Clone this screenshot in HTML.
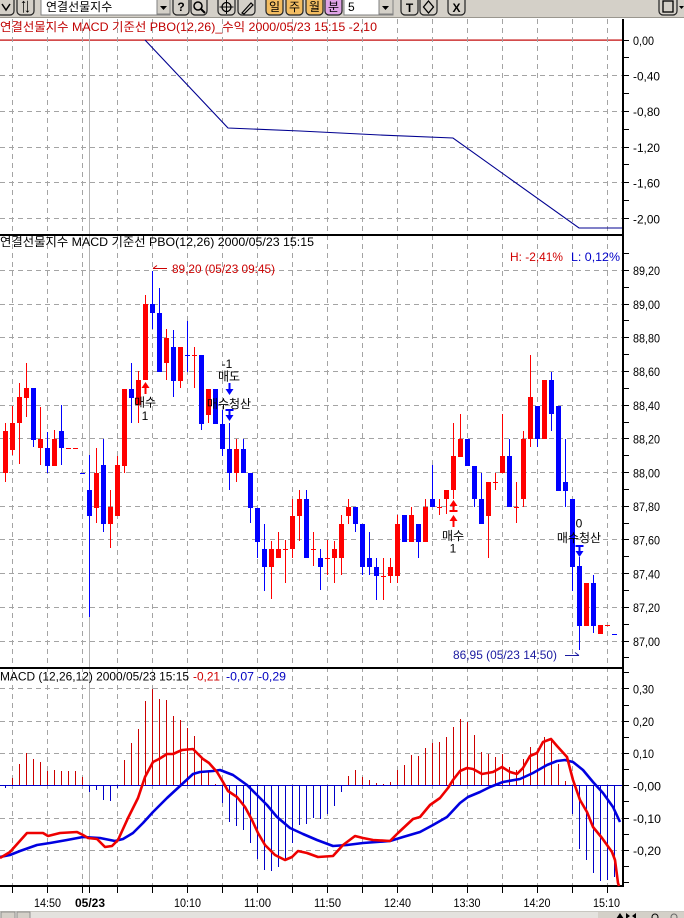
<!DOCTYPE html>
<html><head><meta charset="utf-8">
<style>
body{margin:0;background:#fff}
svg{display:block}
text{font-family:"Liberation Sans","NanumGothic","Noto Sans CJK KR",sans-serif;font-size:12px}
.k{font-family:"Liberation Sans","Noto Sans CJK KR","NanumGothic",sans-serif}
</style></head>
<body>
<svg width="684" height="918" viewBox="0 0 684 918" xmlns="http://www.w3.org/2000/svg">
<rect x="0" y="0" width="684" height="918" fill="#fff"/>

<!-- toolbar -->
<rect x="0" y="0" width="684" height="18" fill="#d4d0c8"/>
<rect x="0" y="17" width="684" height="1" fill="#9a978f"/>
<g fill="#d4d0c8" stroke="#222" stroke-width="1.2">
<rect x="-3" y="-4" width="17" height="19" rx="4"/>
<rect x="17" y="-4" width="17" height="19" rx="4"/>
<rect x="173" y="-4" width="16" height="19" rx="4"/>
<rect x="191" y="-4" width="16" height="19" rx="4"/>
<rect x="218" y="-4" width="17" height="19" rx="4"/>
<rect x="238" y="-4" width="17" height="19" rx="4"/>
<rect x="266" y="-4" width="17" height="19" rx="4" fill="#f3bd62"/>
<rect x="286" y="-4" width="17" height="19" rx="4" fill="#f3bd62"/>
<rect x="306" y="-4" width="17" height="19" rx="4" fill="#f3bd62"/>
<rect x="325" y="-4" width="17" height="19" rx="4" fill="#dfa3e6"/>
<rect x="401" y="-4" width="17" height="19" rx="4"/>
<rect x="420" y="-4" width="17" height="19" rx="4"/>
<rect x="448" y="-4" width="17" height="19" rx="4"/>
<rect x="659" y="-4" width="18" height="19" rx="4"/>
</g>
<rect x="41" y="-2" width="129" height="17" fill="#fff" stroke="#808080"/>
<rect x="157" y="-1" width="13" height="15" fill="#d4d0c8" stroke="#808080"/>
<path d="M160 6h7l-3.5 4z" fill="#000"/>
<text x="46" y="11" class="k" font-size="12">연결선물지수</text>
<rect x="344" y="-2" width="49" height="17" fill="#fff" stroke="#808080"/>
<rect x="379" y="-1" width="14" height="15" fill="#d4d0c8" stroke="#808080"/>
<path d="M382 6h7l-3.5 4z" fill="#000"/>
<text x="348" y="11">5</text>
<g fill="#000" font-size="11" text-anchor="middle">
<text x="25.5" y="11" font-weight="bold">⇅</text>
<text x="181" y="11" font-weight="bold">?</text>
<text x="274.5" y="11" class="k" font-size="11">일</text>
<text x="294.5" y="11" class="k" font-size="11">주</text>
<text x="314.5" y="11" class="k" font-size="11">월</text>
<text x="333.5" y="11" class="k" font-size="11">분</text>
<text x="409.5" y="12" font-weight="bold" font-size="13">T</text>
<text x="456.5" y="12" font-weight="bold" font-size="12">X</text>
</g>
<path d="M2 4l4 6l4-6" fill="none" stroke="#000" stroke-width="1.5"/>
<circle cx="198" cy="6" r="4" fill="none" stroke="#000" stroke-width="1.5"/>
<path d="M201 9l4 4" stroke="#000" stroke-width="2"/>
<circle cx="226.5" cy="7" r="4.5" fill="none" stroke="#000" stroke-width="1.3"/>
<path d="M226.5 0v14M219.5 7h14" stroke="#000"/>
<path d="M242 13l9-10l2 2l-9 9z" fill="none" stroke="#000" stroke-width="1.2"/>
<path d="M428.5 1l5 6l-5 6l-5-6z" fill="none" stroke="#000" stroke-width="1.3"/>
<rect x="663" y="1" width="10" height="11" fill="none" stroke="#000" stroke-width="1.3"/>
<path d="M679 6h5l-2.5 3z" fill="#000"/>

<!-- top panel red base line -->
<rect x="0" y="39.5" width="622" height="1.2" fill="#c00000"/>

<!-- grid -->
<g stroke="#a4a4a4" stroke-width="1" stroke-dasharray="5 4" fill="none">
<path d="M12.5 19V885M47.5 19V885M82.5 19V885M117.5 19V885M152.5 19V885M187.5 19V885M222.5 19V885M257.5 19V885M292.5 19V885M327.5 19V885M362.5 19V885M397.5 19V885M432.5 19V885M467.5 19V885M502.5 19V885M537.5 19V885M572.5 19V885M607.5 19V885"/>
<path d="M0 75.5H622M0 111.5H622M0 147.5H622M0 182.5H622M0 218.5H622"/>
<path d="M0 270.5H622M0 304.5H622M0 337.5H622M0 371.5H622M0 405.5H622M0 438.5H622M0 472.5H622M0 506.5H622M0 539.5H622M0 573.5H622M0 607.5H622M0 641.5H622"/>
<path d="M0 688.5H622M0 721.5H622M0 753.5H622M0 818.5H622M0 850.5H622"/>
</g>
<rect x="89" y="19" width="1" height="866" fill="#b4b4b4"/>

<!-- top panel PBO line -->
<polyline points="145,40 228,128 300,131 380,135 453,138 579,228 622,228" fill="none" stroke="#000090" stroke-width="1.1"/>

<!-- panel borders / axis -->
<rect x="0" y="234" width="624" height="2" fill="#000"/>
<rect x="0" y="667" width="624" height="2" fill="#000"/>
<rect x="0" y="885" width="624" height="2" fill="#000"/>
<rect x="622" y="19" width="2" height="868" fill="#000"/>

<!-- axis ticks -->
<path stroke="#000" stroke-width="1" d="
M624 40.5h5M624 57.5h5M624 75.5h5M624 93.5h5M624 111.5h5M624 129.5h5M624 147.5h5M624 164.5h5M624 182.5h5M624 200.5h5M624 218.5h5
M624 253.5h5M624 270.5h5M624 287.5h5M624 304.5h5M624 320.5h5M624 337.5h5M624 354.5h5M624 371.5h5M624 388.5h5M624 405.5h5M624 422.5h5M624 438.5h5M624 455.5h5M624 472.5h5M624 489.5h5M624 506.5h5M624 523.5h5M624 539.5h5M624 556.5h5M624 573.5h5M624 590.5h5M624 607.5h5M624 624.5h5M624 641.5h5M624 657.5h5
M624 672.5h5M624 688.5h5M624 705.5h5M624 721.5h5M624 737.5h5M624 753.5h5M624 769.5h5M624 785.5h5M624 801.5h5M624 818.5h5M624 834.5h5M624 850.5h5M624 866.5h5M624 882.5h5
M12.5 887v6M47.5 887v6M82.5 887v6M89.5 887v6M117.5 887v6M152.5 887v6M187.5 887v6M222.5 887v6M257.5 887v6M292.5 887v6M327.5 887v6M362.5 887v6M397.5 887v6M432.5 887v6M467.5 887v6M502.5 887v6M537.5 887v6M572.5 887v6M607.5 887v6"/>

<!-- axis labels -->
<g fill="#000" font-size="13.5" lengthAdjust="spacingAndGlyphs">
<text x="633" y="45" textLength="21" lengthAdjust="spacingAndGlyphs">0,00</text>
<text x="633" y="80.5" textLength="27" lengthAdjust="spacingAndGlyphs">-0,40</text>
<text x="633" y="116" textLength="27" lengthAdjust="spacingAndGlyphs">-0,80</text>
<text x="633" y="152" textLength="27" lengthAdjust="spacingAndGlyphs">-1,20</text>
<text x="633" y="187.5" textLength="27" lengthAdjust="spacingAndGlyphs">-1,60</text>
<text x="633" y="223.5" textLength="27" lengthAdjust="spacingAndGlyphs">-2,00</text>
<text x="633" y="275" textLength="27" lengthAdjust="spacingAndGlyphs">89,20</text>
<text x="633" y="309" textLength="27" lengthAdjust="spacingAndGlyphs">89,00</text>
<text x="633" y="342.5" textLength="27" lengthAdjust="spacingAndGlyphs">88,80</text>
<text x="633" y="376" textLength="27" lengthAdjust="spacingAndGlyphs">88,60</text>
<text x="633" y="410" textLength="27" lengthAdjust="spacingAndGlyphs">88,40</text>
<text x="633" y="443.5" textLength="27" lengthAdjust="spacingAndGlyphs">88,20</text>
<text x="633" y="477.5" textLength="27" lengthAdjust="spacingAndGlyphs">88,00</text>
<text x="633" y="511" textLength="27" lengthAdjust="spacingAndGlyphs">87,80</text>
<text x="633" y="544.5" textLength="27" lengthAdjust="spacingAndGlyphs">87,60</text>
<text x="633" y="578.5" textLength="27" lengthAdjust="spacingAndGlyphs">87,40</text>
<text x="633" y="612" textLength="27" lengthAdjust="spacingAndGlyphs">87,20</text>
<text x="633" y="646" textLength="27" lengthAdjust="spacingAndGlyphs">87,00</text>
<text x="633" y="693.5" textLength="21" lengthAdjust="spacingAndGlyphs">0,30</text>
<text x="633" y="726" textLength="21" lengthAdjust="spacingAndGlyphs">0,20</text>
<text x="633" y="758" textLength="21" lengthAdjust="spacingAndGlyphs">0,10</text>
<text x="633" y="790.5" textLength="28" lengthAdjust="spacingAndGlyphs">-0,00</text>
<text x="633" y="823" textLength="28" lengthAdjust="spacingAndGlyphs">-0,10</text>
<text x="633" y="855" textLength="28" lengthAdjust="spacingAndGlyphs">-0,20</text>
</g>

<!-- headers -->
<text x="0" y="31" class="k" fill="#c00000" textLength="377" lengthAdjust="spacingAndGlyphs">연결선물지수 MACD 기준선 PBO(12,26)_수익 2000/05/23 15:15 -2,10</text>
<text x="0" y="246" class="k" fill="#000" textLength="314" lengthAdjust="spacingAndGlyphs">연결선물지수 MACD 기준선 PBO(12,26) 2000/05/23 15:15</text>
<text x="510" y="261" fill="#d00000" textLength="53" lengthAdjust="spacingAndGlyphs">H: -2,41%</text>
<text x="571" y="261" fill="#0000c8" textLength="49" lengthAdjust="spacingAndGlyphs">L: 0,12%</text>
<text x="0" y="680.5" fill="#000" textLength="189" lengthAdjust="spacingAndGlyphs">MACD (12,26,12) 2000/05/23 15:15</text>
<text x="193" y="680.5" fill="#d00000" textLength="27" lengthAdjust="spacingAndGlyphs">-0,21</text>
<text x="226" y="680.5" fill="#0000c0" textLength="28" lengthAdjust="spacingAndGlyphs">-0,07</text>
<text x="258" y="680.5" fill="#0000c0" textLength="28" lengthAdjust="spacingAndGlyphs">-0,29</text>

<!-- red candles -->
<g fill="#ff0000">
<rect x="5" y="423" width="1" height="59"/><rect x="3" y="431" width="5" height="42"/>
<rect x="12" y="406" width="1" height="49"/><rect x="10" y="423" width="5" height="27"/>
<rect x="19" y="383" width="1" height="81"/><rect x="17" y="397" width="5" height="26"/>
<rect x="26" y="363" width="1" height="54"/><rect x="24" y="388" width="5" height="10"/>
<rect x="40" y="407" width="1" height="58"/><rect x="38" y="439" width="5" height="9"/>
<rect x="54" y="430" width="1" height="36"/><rect x="52" y="439" width="5" height="27"/>
<rect x="66" y="448" width="5" height="1"/>
<rect x="73" y="448" width="5" height="1"/>
<rect x="96" y="448" width="1" height="75"/><rect x="94" y="473" width="5" height="35"/>
<rect x="110" y="490" width="1" height="58"/><rect x="108" y="507" width="5" height="17"/>
<rect x="117" y="456" width="1" height="60"/><rect x="115" y="465" width="5" height="51"/>
<rect x="124" y="389" width="1" height="84"/><rect x="122" y="389" width="5" height="77"/>
<rect x="138" y="371" width="1" height="52"/><rect x="136" y="380" width="5" height="25"/>
<rect x="145" y="295" width="1" height="85"/><rect x="143" y="304" width="5" height="76"/>
<rect x="166" y="329" width="1" height="51"/><rect x="164" y="338" width="5" height="25"/>
<rect x="180" y="347" width="1" height="41"/><rect x="178" y="347" width="5" height="34"/>
<rect x="194" y="347" width="1" height="41"/><rect x="192" y="355" width="5" height="1"/>
<rect x="208" y="389" width="1" height="34"/><rect x="206" y="389" width="5" height="26"/>
<rect x="236" y="439" width="1" height="43"/><rect x="234" y="449" width="5" height="24"/>
<rect x="271" y="541" width="1" height="58"/><rect x="269" y="549" width="5" height="18"/>
<rect x="278" y="532" width="1" height="26"/><rect x="276" y="549" width="5" height="9"/>
<rect x="285" y="540" width="1" height="43"/><rect x="283" y="549" width="5" height="1"/>
<rect x="292" y="499" width="1" height="59"/><rect x="290" y="516" width="5" height="33"/>
<rect x="299" y="490" width="1" height="51"/><rect x="297" y="499" width="5" height="17"/>
<rect x="313" y="532" width="1" height="34"/><rect x="311" y="549" width="5" height="1"/>
<rect x="327" y="540" width="1" height="35"/><rect x="325" y="558" width="5" height="1"/>
<rect x="334" y="541" width="1" height="42"/><rect x="332" y="549" width="5" height="9"/>
<rect x="341" y="515" width="1" height="60"/><rect x="339" y="524" width="5" height="34"/>
<rect x="348" y="499" width="1" height="25"/><rect x="346" y="507" width="5" height="9"/>
<rect x="383" y="558" width="1" height="42"/><rect x="381" y="576" width="5" height="1"/>
<rect x="390" y="558" width="1" height="25"/><rect x="388" y="567" width="5" height="9"/>
<rect x="397" y="515" width="1" height="68"/><rect x="395" y="524" width="5" height="52"/>
<rect x="411" y="507" width="1" height="35"/><rect x="409" y="515" width="5" height="27"/>
<rect x="425" y="499" width="1" height="43"/><rect x="423" y="507" width="5" height="35"/>
<rect x="439" y="499" width="1" height="16"/><rect x="437" y="507" width="5" height="1"/>
<rect x="446" y="490" width="1" height="24"/><rect x="444" y="490" width="5" height="9"/>
<rect x="453" y="423" width="1" height="76"/><rect x="451" y="456" width="5" height="34"/>
<rect x="460" y="414" width="1" height="43"/><rect x="458" y="439" width="5" height="18"/>
<rect x="488" y="482" width="1" height="76"/><rect x="486" y="482" width="5" height="34"/>
<rect x="495" y="473" width="1" height="17"/><rect x="493" y="482" width="5" height="1"/>
<rect x="502" y="414" width="1" height="59"/><rect x="500" y="456" width="5" height="17"/>
<rect x="516" y="482" width="1" height="41"/><rect x="514" y="507" width="5" height="1"/>
<rect x="523" y="431" width="1" height="76"/><rect x="521" y="439" width="5" height="60"/>
<rect x="530" y="355" width="1" height="92"/><rect x="528" y="397" width="5" height="42"/>
<rect x="542" y="380" width="5" height="59"/>
<rect x="584" y="583" width="5" height="43"/>
<rect x="598" y="625" width="5" height="9"/>
<rect x="605" y="625" width="5" height="1"/>
</g>

<!-- blue candles -->
<g fill="#0000ff">
<rect x="33" y="388" width="1" height="59"/><rect x="31" y="388" width="5" height="52"/>
<rect x="47" y="432" width="1" height="41"/><rect x="45" y="448" width="5" height="18"/>
<rect x="61" y="405" width="1" height="60"/><rect x="59" y="431" width="5" height="17"/>
<rect x="80" y="473" width="5" height="1"/>
<rect x="89" y="455" width="1" height="162"/><rect x="87" y="490" width="5" height="26"/>
<rect x="103" y="439" width="1" height="93"/><rect x="101" y="465" width="5" height="59"/>
<rect x="131" y="363" width="1" height="60"/><rect x="129" y="389" width="5" height="9"/>
<rect x="152" y="271" width="1" height="58"/><rect x="150" y="304" width="5" height="9"/>
<rect x="159" y="288" width="1" height="84"/><rect x="157" y="313" width="5" height="59"/>
<rect x="173" y="330" width="1" height="67"/><rect x="171" y="347" width="5" height="34"/>
<rect x="187" y="321" width="1" height="51"/><rect x="185" y="355" width="5" height="1"/>
<rect x="201" y="355" width="1" height="75"/><rect x="199" y="355" width="5" height="69"/>
<rect x="213" y="389" width="5" height="35"/>
<rect x="222" y="410" width="1" height="46"/><rect x="220" y="424" width="5" height="25"/>
<rect x="229" y="423" width="1" height="67"/><rect x="227" y="449" width="5" height="24"/>
<rect x="243" y="439" width="1" height="34"/><rect x="241" y="449" width="5" height="24"/>
<rect x="250" y="473" width="1" height="50"/><rect x="248" y="473" width="5" height="35"/>
<rect x="257" y="508" width="1" height="50"/><rect x="255" y="508" width="5" height="34"/>
<rect x="264" y="524" width="1" height="67"/><rect x="262" y="549" width="5" height="18"/>
<rect x="306" y="490" width="1" height="68"/><rect x="304" y="499" width="5" height="59"/>
<rect x="320" y="549" width="1" height="41"/><rect x="318" y="558" width="5" height="9"/>
<rect x="355" y="507" width="1" height="25"/><rect x="353" y="507" width="5" height="17"/>
<rect x="362" y="524" width="1" height="51"/><rect x="360" y="524" width="5" height="43"/>
<rect x="369" y="532" width="1" height="43"/><rect x="367" y="558" width="5" height="9"/>
<rect x="376" y="558" width="1" height="42"/><rect x="374" y="567" width="5" height="9"/>
<rect x="402" y="515" width="5" height="27"/>
<rect x="418" y="524" width="1" height="34"/><rect x="416" y="524" width="5" height="18"/>
<rect x="432" y="465" width="1" height="42"/><rect x="430" y="499" width="5" height="8"/>
<rect x="465" y="439" width="5" height="27"/>
<rect x="474" y="466" width="1" height="41"/><rect x="472" y="466" width="5" height="33"/>
<rect x="481" y="473" width="1" height="51"/><rect x="479" y="499" width="5" height="25"/>
<rect x="509" y="439" width="1" height="68"/><rect x="507" y="456" width="5" height="51"/>
<rect x="537" y="406" width="1" height="41"/><rect x="535" y="406" width="5" height="33"/>
<rect x="551" y="372" width="1" height="59"/><rect x="549" y="380" width="5" height="34"/>
<rect x="556" y="406" width="5" height="85"/>
<rect x="565" y="439" width="1" height="68"/><rect x="563" y="482" width="5" height="9"/>
<rect x="572" y="499" width="1" height="92"/><rect x="570" y="499" width="5" height="68"/>
<rect x="579" y="557" width="1" height="93"/><rect x="577" y="566" width="5" height="60"/>
<rect x="593" y="575" width="1" height="58"/><rect x="591" y="583" width="5" height="43"/>
<rect x="612" y="634" width="5" height="1"/>
</g>

<!-- high / low annotations -->
<path d="M153 268.5h14M153 268.5l4-3" stroke="#cc0000" fill="none"/>
<text x="172" y="273" fill="#cc0000" textLength="103" lengthAdjust="spacingAndGlyphs">89,20 (05/23 09:45)</text>
<text x="453" y="659" fill="#1a1aa0" textLength="104" lengthAdjust="spacingAndGlyphs">86,95 (05/23 14:50)</text>
<path d="M565 655.5h14M579 655.5l-4-3" stroke="#1a1aa0" fill="none"/>

<!-- signal arrows -->
<g fill="#ff0000">
<path d="M145.5 382l4 6h-3v6h-2v-6h-3z"/>
<path d="M453.5 500l4 6h-3v4h-2v-4h-3z"/><rect x="449.5" y="510" width="8" height="2"/>
<path d="M453.5 515l4 6h-3v6h-2v-6h-3z"/>
</g>
<g fill="#0000ff">
<path d="M228.5 383h2v6h3l-4 6l-4-6h3z"/>
<rect x="225.5" y="409" width="8" height="2"/><path d="M228.5 411h2v4h3l-4 6l-4-6h3z"/>
<rect x="575.5" y="545" width="8" height="2"/><path d="M578.5 547h2v4h3l-4 6l-4-6h3z"/>
</g>
<g class="k" fill="#000" text-anchor="middle">
<text x="227" y="368">-1</text>
<text x="229" y="380.5" class="k">매도</text>
<text x="229" y="408" class="k">매수청산</text>
<text x="145" y="406.5" class="k">매수</text>
<text x="145" y="420">1</text>
<text x="453" y="540" class="k">매수</text>
<text x="453" y="552.5">1</text>
<text x="579" y="527.5">0</text>
<text x="579" y="542" class="k">매수청산</text>
</g>

<!-- MACD histogram -->
<rect x="0" y="785" width="622" height="1" fill="#0000c8"/>
<g fill="#cc0000">
<rect x="12" y="778" width="1" height="7"/><rect x="19" y="764" width="1" height="21"/><rect x="26" y="753" width="1" height="32"/><rect x="33" y="759" width="1" height="26"/><rect x="40" y="762" width="1" height="23"/><rect x="47" y="771" width="1" height="14"/><rect x="54" y="770" width="1" height="15"/><rect x="61" y="771" width="1" height="14"/><rect x="68" y="771" width="1" height="14"/><rect x="75" y="771" width="1" height="14"/><rect x="82" y="777" width="1" height="8"/>
<rect x="124" y="760" width="1" height="25"/><rect x="131" y="743" width="1" height="42"/><rect x="138" y="729" width="1" height="56"/><rect x="145" y="701" width="1" height="84"/><rect x="152" y="689" width="1" height="96"/><rect x="159" y="699" width="1" height="86"/><rect x="166" y="700" width="1" height="85"/><rect x="173" y="716" width="1" height="69"/><rect x="180" y="720" width="1" height="65"/><rect x="187" y="728" width="1" height="57"/><rect x="194" y="736" width="1" height="49"/><rect x="201" y="758" width="1" height="27"/><rect x="208" y="771" width="1" height="14"/><rect x="215" y="784" width="1" height="1"/>
<rect x="348" y="776" width="1" height="9"/><rect x="355" y="770" width="1" height="15"/><rect x="362" y="777" width="1" height="8"/><rect x="369" y="780" width="1" height="5"/><rect x="376" y="783" width="1" height="2"/><rect x="383" y="784" width="1" height="1"/><rect x="390" y="782" width="1" height="3"/><rect x="397" y="770" width="1" height="15"/><rect x="404" y="765" width="1" height="20"/><rect x="411" y="755" width="1" height="30"/><rect x="418" y="756" width="1" height="29"/><rect x="425" y="748" width="1" height="37"/><rect x="432" y="743" width="1" height="42"/><rect x="439" y="742" width="1" height="43"/><rect x="446" y="737" width="1" height="48"/><rect x="453" y="727" width="1" height="58"/><rect x="460" y="719" width="1" height="66"/><rect x="467" y="722" width="1" height="63"/><rect x="474" y="735" width="1" height="50"/><rect x="481" y="752" width="1" height="33"/><rect x="488" y="754" width="1" height="31"/><rect x="495" y="757" width="1" height="28"/><rect x="502" y="754" width="1" height="31"/><rect x="509" y="767" width="1" height="18"/><rect x="516" y="770" width="1" height="15"/><rect x="523" y="759" width="1" height="26"/><rect x="530" y="747" width="1" height="38"/><rect x="537" y="752" width="1" height="33"/><rect x="544" y="737" width="1" height="48"/><rect x="551" y="740" width="1" height="45"/><rect x="558" y="764" width="1" height="21"/><rect x="565" y="781" width="1" height="4"/>
</g>
<g fill="#0000c8">
<rect x="5" y="786" width="1" height="2"/>
<rect x="89" y="786" width="1" height="6"/><rect x="96" y="786" width="1" height="4"/><rect x="103" y="786" width="1" height="14"/><rect x="110" y="786" width="1" height="15"/><rect x="117" y="786" width="1" height="2"/>
<rect x="222" y="786" width="1" height="17"/><rect x="229" y="786" width="1" height="36"/><rect x="236" y="786" width="1" height="40"/><rect x="243" y="786" width="1" height="44"/><rect x="250" y="786" width="1" height="57"/><rect x="257" y="786" width="1" height="73"/><rect x="264" y="786" width="1" height="84"/><rect x="271" y="786" width="1" height="85"/><rect x="278" y="786" width="1" height="81"/><rect x="285" y="786" width="1" height="73"/><rect x="292" y="786" width="1" height="57"/><rect x="299" y="786" width="1" height="39"/><rect x="306" y="786" width="1" height="38"/><rect x="313" y="786" width="1" height="32"/><rect x="320" y="786" width="1" height="33"/><rect x="327" y="786" width="1" height="28"/><rect x="334" y="786" width="1" height="20"/><rect x="341" y="786" width="1" height="6"/>
<rect x="572" y="786" width="1" height="28"/><rect x="579" y="786" width="1" height="63"/><rect x="586" y="786" width="1" height="74"/><rect x="593" y="786" width="1" height="87"/><rect x="600" y="786" width="1" height="95"/><rect x="607" y="786" width="1" height="94"/><rect x="614" y="786" width="1" height="91"/>
</g>

<!-- MACD lines -->
<polyline fill="none" stroke="#0000e0" stroke-width="2.6" stroke-linejoin="round" points="0,857 10,855 20,851 37,845 50,843 67,840 83,837 100,838 115,841 123,839 133,833 143,823 153,812 167,798 180,786 193,774 200,772 213,771 220,770 233,775 247,785 257,795 267,805 277,817 290,828 303,834 317,840 333,846 347,845 363,843 390,841 403,837 420,832 433,825 447,817 460,803 468,797 480,792 490,787 503,782 520,779 533,773 547,765 557,761 565,760 573,762 583,770 593,782 603,793 613,807 620,822"/>
<polyline fill="none" stroke="#ee0000" stroke-width="2.6" stroke-linejoin="round" points="0,858 10,852 27,833 43,833 48,836 60,833 77,832 83,835 88,838 97,839 105,847 112,846 118,840 128,818 138,798 145,777 153,762 159,759 167,754 173,754 182,750 193,749 203,759 209,763 217,772 223,782 228,791 237,797 245,807 252,820 258,833 265,845 275,855 285,860 292,857 298,851 307,853 318,857 333,856 343,845 355,836 363,838 373,840 390,841 398,833 413,819 420,817 430,805 440,798 448,788 453,780 460,771 467,768 473,769 482,774 493,772 502,767 510,772 517,774 523,768 530,756 537,753 543,742 551,739 557,746 567,757 573,780 580,800 587,812 593,827 602,838 612,852 615,860 618,883 619,886"/>

<!-- time axis labels -->
<g fill="#000" font-size="13.5" text-anchor="middle">
<text x="47.5" y="907" textLength="27" lengthAdjust="spacingAndGlyphs">14:50</text>
<text x="90" y="907" font-weight="bold" textLength="30" lengthAdjust="spacingAndGlyphs">05/23</text>
<text x="187.5" y="907" textLength="27" lengthAdjust="spacingAndGlyphs">10:10</text>
<text x="257.5" y="907" textLength="27" lengthAdjust="spacingAndGlyphs">11:00</text>
<text x="327.5" y="907" textLength="27" lengthAdjust="spacingAndGlyphs">11:50</text>
<text x="397.5" y="907" textLength="27" lengthAdjust="spacingAndGlyphs">12:40</text>
<text x="467" y="907" textLength="27" lengthAdjust="spacingAndGlyphs">13:30</text>
<text x="537" y="907" textLength="27" lengthAdjust="spacingAndGlyphs">14:20</text>
<text x="606.5" y="907" textLength="27" lengthAdjust="spacingAndGlyphs">15:10</text>
</g>

<!-- bottom scrollbar -->
<rect x="0" y="911" width="684" height="7" fill="#e4e2de"/>
<rect x="0" y="911" width="684" height="1" fill="#c8c6c0"/>
<rect x="1" y="912" width="14" height="7" fill="#d4d0c8" stroke="#808080" stroke-width="0.8"/>
<rect x="17" y="912" width="13" height="7" fill="#d4d0c8" stroke="#808080" stroke-width="0.8"/>
<rect x="598" y="912" width="86" height="7" fill="#d4d0c8"/>
<path d="M616 919l4-6l4 6zM626 919v-6l4 3zM636 913v6l-4-3z" fill="#000"/>
<circle cx="655" cy="917" r="3" fill="none" stroke="#000"/>
<circle cx="674" cy="917" r="3" fill="none" stroke="#666"/>
</svg>
</body></html>
